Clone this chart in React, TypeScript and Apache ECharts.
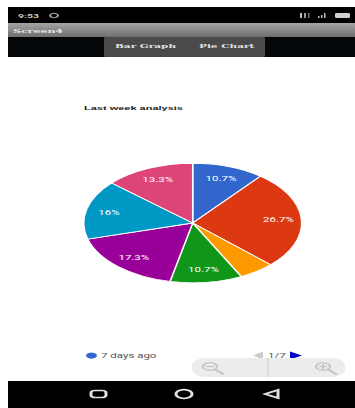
import React, { useEffect, useRef } from "react";
import * as echarts from "echarts";

const categories = ["7 days ago", "6 days ago", "5 days ago", "4 days ago", "3 days ago", "2 days ago", "Yesterday"];
const dayCounts = [8, 20, 4, 8, 13, 12, 10];
const sliceColors = ["#3366cc", "#dc3912", "#ff9900", "#109618", "#990099", "#0099c6", "#dd4477"];
const chartTitle = "Last week analysis";
const clockText = "9:53";
const screenName = "Screen4";
const tabNames = ["Bar Graph", "Pie Chart"];
const legendPage = 1;

// The whole view is laid out tall and squeezed vertically by CSS, which turns the pie into an ellipse.
const W = 355;
const VIEW_H = 408;
const SQUEEZE = 0.548;
const H = VIEW_H / SQUEEZE;
const Y = (y: number) => y / SQUEEZE;

const box = (x: number, y0: number, w: number, h: number, fill: any, r = 0) => ({
  type: "rect",
  shape: { x, y: Y(y0), width: w, height: h / SQUEEZE, r },
  style: { fill },
  silent: true,
});

const label = (text: string, x: number, y: number, fill: string, fontSize: number, fontFamily: string, fontWeight = "normal") => ({
  type: "text",
  style: { text, x, y: Y(y), fill, fontSize, fontFamily, fontWeight, textVerticalAlign: "middle" },
  silent: true,
});

const stroke = (color: string, lineWidth: number) => ({ fill: "none", stroke: color, lineWidth });

const seg = (x1: number, y1: number, x2: number, y2: number, color: string, lineWidth: number) => ({
  type: "line",
  shape: { x1, y1: Y(y1), x2, y2: Y(y2) },
  style: { stroke: color, lineWidth },
  silent: true,
});

const oval = (cx: number, cy: number, r: number, color: string, lineWidth: number) => ({
  type: "circle",
  shape: { cx, cy: Y(cy), r },
  style: stroke(color, lineWidth),
  silent: true,
});

const triangle = (tipX: number, baseX: number, cy: number, halfH: number, fill: string) => ({
  type: "polygon",
  shape: { points: [[tipX, Y(cy)], [baseX, Y(cy - halfH)], [baseX, Y(cy + halfH)]] },
  style: { fill },
  silent: true,
});

const magnifier = (cx: number, cy: number, plus: boolean) => {
  const c = "#c4c4c4";
  const parts: any[] = [
    oval(cx, cy, 7, c, 2),
    seg(cx + 5, cy + 3, cx + 14, cy + 8, c, 3),
    seg(cx - 4, cy, cx + 4, cy, c, 2),
  ];
  if (plus) parts.push(seg(cx, cy - 2.5, cx, cy + 2.5, c, 2));
  return parts;
};

const shellGraphics: any[] = [
  // status bar, title bar and tab strip
  box(8, 7, W - 8, 16, "#000000"),
  box(8, 23, W - 8, 14, new echarts.graphic.LinearGradient(0, 0, 0, 1, [
    { offset: 0, color: "#a3a3a3" },
    { offset: 1, color: "#6f6f6f" },
  ])),
  box(8, 37, W - 8, 20, "#04070a"),
  box(104, 37, 161, 20, "#4a4a4a", 2),
  label(clockText, 18, 15.5, "#c8c8c8", 10.5, "Roboto", "bold"),
  oval(54, 15.5, 4, "#a8a8a8", 2),
  box(300, 13, 2, 5, "#bbbbbb"),
  box(304, 13, 2, 5, "#999999"),
  box(308, 13, 1.5, 5, "#777777"),
  box(318, 16, 1.5, 2, "#bbbbbb"),
  box(321, 15, 1.5, 3, "#bbbbbb"),
  box(324, 13, 1.5, 5, "#bbbbbb"),
  box(335, 13, 15, 5, "#d0d0d0", 2),
  label(screenName, 13, 30.5, "#e4e4e4", 11, "DejaVu Serif", "bold"),
  label(tabNames[0], 115, 46, "#e2e2e2", 10.5, "DejaVu Serif", "bold"),
  label(tabNames[1], 199, 46, "#e2e2e2", 10.5, "DejaVu Serif", "bold"),
  // legend pager
  triangle(253, 263, 355.5, 4, "#cccccc"),
  label(`${legendPage}/${categories.length}`, 268, 355.5, "#555555", 11.5, "Roboto"),
  triangle(302, 290, 355.5, 4, "#0000cc"),
  // zoom control
  box(192, 358, 153, 19, "#ececec", 14),
  seg(268, 358, 268, 377, "#c4c4c4", 1),
  ...magnifier(210, 366.5, false),
  ...magnifier(323, 366.5, true),
  // navigation bar
  box(8, 381, W - 8, 27, "#000000"),
  {
    type: "rect",
    shape: { x: 91, y: Y(390.5), width: 15, height: 7 / SQUEEZE, r: 4 },
    style: stroke("#e0e0e0", 3),
    silent: true,
  },
  oval(184, 394, 8, "#e0e0e0", 3),
  {
    type: "polygon",
    shape: { points: [[265, Y(394)], [278, Y(390)], [278, Y(398)]] },
    style: stroke("#e0e0e0", 3),
    silent: true,
  },
];

const pieData = categories.map((name, i) => ({ name, value: dayCounts[i] }));

export default function App() {
  const ref = useRef<HTMLDivElement>(null);

  useEffect(() => {
    const chart = echarts.init(ref.current!, undefined, { renderer: "svg" });
    chart.setOption({
      animation: false,
      color: sliceColors,
      title: {
        text: chartTitle,
        left: 84,
        top: Y(104.5),
        padding: 0,
        textStyle: { fontFamily: "Liberation Sans", fontSize: 11, fontWeight: "bold", color: "#1a1a1a" },
      },
      legend: {
        left: 84,
        top: Y(351.5),
        padding: 0,
        data: [categories[legendPage - 1]],
        itemWidth: 13,
        itemHeight: 13,
        itemGap: 0,
        icon: "circle",
        textStyle: { fontFamily: "Roboto", fontSize: 11.5, color: "#555555", padding: [0, 0, 0, -2] },
      },
      graphic: { elements: shellGraphics },
      series: [
        {
          type: "pie",
          center: [192.7, Y(223)],
          radius: [0, 109],
          startAngle: 90,
          clockwise: true,
          percentPrecision: 1,
          itemStyle: { borderColor: "#ffffff", borderWidth: 1.5 },
          label: { show: false },
          labelLine: { show: false },
          data: pieData,
        },
        {
          // unfilled ring that only carries the percentage labels, further out than the pie's mid radius
          type: "pie",
          center: [192.7, Y(223)],
          radius: [57, 109],
          startAngle: 90,
          clockwise: true,
          percentPrecision: 1,
          silent: true,
          itemStyle: { color: "transparent", borderWidth: 0 },
          label: {
            show: true,
            position: "inside",
            color: "#ffffff",
            fontFamily: "Roboto",
            fontSize: 11.5,
            formatter: (p: any) => (p.percent < 6 ? "" : `${+p.percent}%`),
          },
          labelLine: { show: false },
          data: pieData,
        },
      ],
    });
    return () => chart.dispose();
  }, []);

  return (
    <div style={{ position: "fixed", left: 0, top: 0, width: W, height: VIEW_H, overflow: "hidden", background: "#ffffff" }}>
      <div
        ref={ref}
        style={{ width: W, height: H, transform: `scaleY(${SQUEEZE})`, transformOrigin: "0 0" }}
      />
    </div>
  );
}
